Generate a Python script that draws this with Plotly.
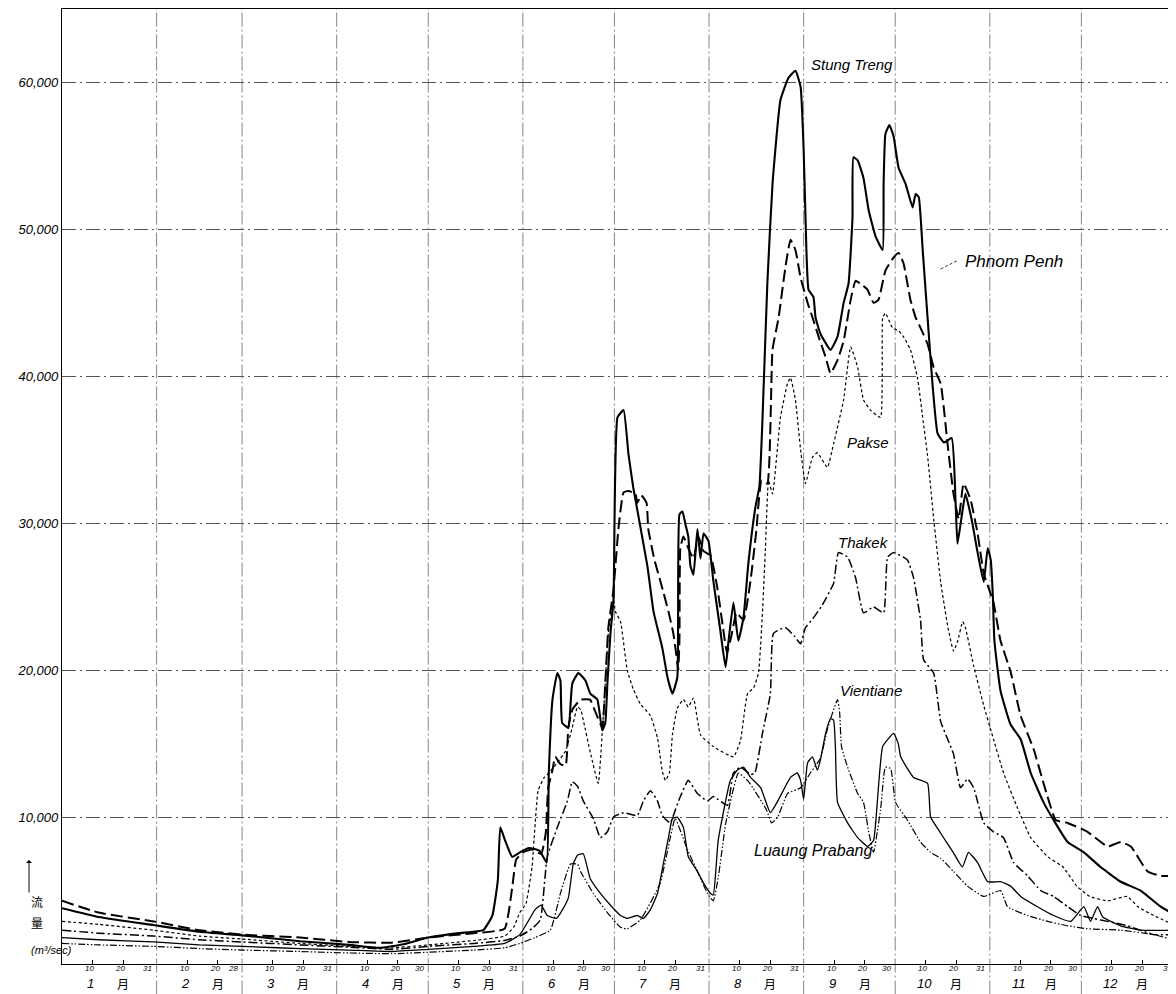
import plotly.graph_objects as go

# ---------------- data (day of year, discharge m3/s) ----------------
st_day = [0, 12, 30, 45, 59, 78, 94, 104, 112, 120, 130, 138, 141, 142.8, 143.6, 145.2, 147.5, 150, 153, 156.5,
          158.8, 159.5, 160.7, 162.3, 163.3, 163.9, 165.9, 167.2, 169.2, 171.5, 173.1, 175.4, 177, 178, 178.7,
          179.7, 180.7, 182, 184, 185.6, 187.2, 191.8, 193.8, 196.7, 198.4, 200, 201.6, 202.3, 203.3, 204.3,
          205.2, 205.9, 206.9, 208.2, 209.2, 210.2, 211.8, 213.4, 215.7, 217.4, 218.4, 220, 221.6, 223.3, 224.9,
          227.2, 228.5, 229.5, 231.1, 232.8, 235.4, 238, 240.3, 242, 243, 243.9, 244.6, 246.2, 246.9, 248.5,
          251.8, 254.1, 256.1, 257.7, 259, 259.3, 260.7, 262.6, 264.3, 266.6, 268.9, 269.2, 269.8, 271.1,
          272.5, 274.1, 276.4, 278.7, 279.7, 280.7, 282, 283.6, 285.2, 286.9, 289, 291.5, 292.8, 293.4, 294.8,
          296, 298, 300, 302, 303.3, 304.3, 305, 305.5, 307.5, 310.8, 314.1, 317.4, 321.6, 324.9, 329.5, 334.8,
          340.3, 346.9, 353.4, 360, 365]
st_q = [3800, 3200, 2650, 2200, 1950, 1550, 1300, 1100, 1350, 1800, 2100, 2300, 3300, 5700, 9300, 8400, 7300, 7600,
        7900, 7700, 6900, 13000, 18000, 19800, 19300, 16400, 16100, 19100, 19800, 19300, 18400, 18000, 15900,
        16400, 19100, 22500, 24800, 37200, 37700, 34700, 32400, 27100, 24000, 21500, 19500, 18400, 19500, 30600,
        30800, 29900, 29100, 27100, 26500, 29600, 27600, 29300, 28800, 26100, 22700, 20200, 22000, 24600, 22000,
        23600, 27300, 31100, 32500, 37000, 46300, 53100, 58800, 60300, 60800, 59700, 55400, 48600, 45900, 45400,
        44000, 42900, 41800, 42700, 45000, 46300, 50800, 54900, 54700, 53500, 51300, 49500, 48600, 53100, 56500,
        57100, 56300, 54200, 53100, 51500, 52400, 52200, 48600, 44000, 39500, 36100, 35500, 35800, 31300, 28600,
        30500, 32000, 30300, 28000, 26000, 28300, 27500, 25000, 22000, 18600, 16300, 15300, 13000, 11000, 9800,
        8300, 7600, 6600, 5600, 5000, 3900, 3300]

pp_day = [0, 12, 30, 45, 59, 78, 94, 108, 120, 135, 145, 147.5, 148.8, 151, 154, 157, 158.5, 159.3, 160.7, 161.6,
          163.3, 165, 165.9, 167.2, 169, 170, 173, 174.5, 177, 178, 179, 180.7, 182.3, 184, 185.6, 187.9, 188.5,
          189.8, 191.5, 192.1, 194, 196.4, 198.7, 200.3, 201.3, 201.9, 202.3, 202.6, 203.6, 205.2, 206.9, 208.5,
          210.2, 212.5, 214.8, 216.5, 217.9, 219.5, 221, 223.3, 225.6, 227.5, 229.2, 231.1, 232.8, 234.8, 237,
          238.7, 240.3, 242, 244.3, 245.9, 247.9, 250.2, 251.8, 254.1, 256.1, 258.4, 260, 261.6, 263.9, 265.9,
          267.5, 269.8, 272.5, 274.1, 275.7, 278, 279.7, 281.3, 283.6, 285.6, 287.9, 290.2, 292.1, 293.8, 295.4,
          297.7, 300, 302, 305.2, 307.5, 310.8, 314.1, 318.4, 321.6, 325.6, 329.5, 336, 342.6, 346.9, 350.2,
          355.7, 360, 365]
pp_q = [4300, 3500, 2900, 2300, 2000, 1800, 1500, 1450, 1800, 2100, 2400, 5200, 7100, 7600, 7800, 7500, 8900, 12000,
        13200, 14100, 13600, 13500, 16100, 17300, 17800, 18000, 18000, 17300, 16100, 19100, 22900, 25500, 29600,
        32100, 32200, 32000, 31400, 31900, 31400, 29600, 27600, 25800, 24000, 22500, 21000, 20000, 22000, 28300,
        29100, 28300, 27600, 29100, 28100, 27800, 25500, 23000, 21200, 22500, 23900, 23400, 26100, 29500, 32900,
        32700, 41800, 44000, 47400, 49300, 48600, 46700, 45000, 44000, 42700, 41300, 40200, 41100, 42400, 45200,
        46500, 46300, 45900, 45000, 45200, 47200, 48100, 48400, 47700, 45200, 44000, 43300, 42200, 40600, 39500,
        35300, 32000, 30300, 32700, 31600, 29300, 26600, 24600, 22000, 19900, 16900, 14600, 12300, 9800, 9600,
        9000, 8000, 8300, 8000, 6300, 6000, 6000]

pk_day = [0, 12, 30, 45, 59, 78, 94, 108, 120, 135, 145, 148, 150, 152, 154, 156, 158, 159.5, 162.3, 165, 167.2,
          168.9, 170, 170.8, 173.1, 175.7, 177, 178, 179, 180.7, 181.3, 183, 185.2, 187.2, 189.5, 192.8, 195.1,
          196.7, 197.7, 199, 200, 201.6, 203.6, 205.2, 206.9, 209.2, 213.4, 220, 222.3, 224.6, 226.6, 228.2,
          229.5, 230.5, 231.5, 232.8, 235.4, 237.7, 238.7, 240.3, 242, 243.6, 245.9, 247.5, 250.8, 252.8, 256.1,
          258.4, 260.7, 262.6, 264.9, 268.2, 268.9, 269.8, 272.1, 274.1, 275.7, 278, 280.3, 282, 283.6, 285.6,
          287.9, 290.2, 292.1, 293.5, 295.1, 296, 298.7, 302, 305.2, 308.5, 313.1, 317.4, 323, 328, 332.5, 336.7,
          342.6, 349, 352.5, 357.7, 365]
pk_q = [2900, 2700, 2300, 1900, 1700, 1400, 1200, 1100, 1300, 1600, 1900, 2500, 3500, 4100, 6600, 11800, 12700,
        13000, 13700, 14500, 16100, 17500, 17300, 16600, 14400, 12300, 15700, 19100, 22500, 24800, 24000, 23300,
        20000, 18700, 17700, 16900, 15400, 13100, 12500, 13000, 15600, 17400, 18000, 17500, 18100, 15600, 14800,
        14100, 15200, 18400, 18800, 19800, 23900, 28400, 32900, 32000, 37200, 39500, 39900, 38400, 35000, 32700,
        34500, 34800, 33800, 35400, 38400, 42000, 40600, 38400, 37700, 37200, 44000, 44300, 43300, 43100, 42700,
        41800, 39900, 37200, 34600, 30300, 26000, 23000, 21300, 22000, 23300, 22900, 20300, 17600, 15300, 13000,
        10600, 8600, 7300, 6600, 5300, 4600, 4300, 4600, 3900, 3300, 2600]

th_day = [0, 12, 30, 45, 59, 78, 94, 108, 120, 135, 145, 150, 154, 156.7, 159, 162.3, 165.6, 167.2, 168.9, 170.8,
          174.1, 176.4, 178.7, 180.7, 184, 188.5, 190.5, 192.8, 195.1, 196.7, 199.3, 200.3, 202.6, 205.2, 208.2,
          211.5, 213.4, 218, 220, 222.3, 225.6, 227, 229.5, 232.1, 233.1, 237, 240, 242, 243.6, 246, 249, 252.8,
          254.4, 257.4, 260, 262.6, 265.9, 269.2, 270.5, 272.5, 277, 279, 281.3, 282.3, 285.6, 287.9, 290.2,
          292.1, 294.4, 296.7, 298.7, 302, 305.2, 308.5, 311.8, 316.4, 320.7, 324.9, 329.5, 333.8, 338, 342.6,
          349.2, 357.7, 365]
th_q = [2300, 2100, 1900, 1650, 1500, 1300, 1150, 1000, 1200, 1400, 1600, 1900, 2400, 3000, 7300, 9300, 11100,
        12400, 12100, 11100, 9900, 8600, 9000, 10000, 10300, 10100, 11100, 11800, 11100, 10100, 9600, 10100, 11400,
        12500, 11600, 11100, 11400, 10800, 13000, 13400, 12900, 13000, 15700, 18400, 22500, 22900, 22300, 21800,
        22900, 23500, 24400, 25900, 28000, 27700, 26300, 23900, 24300, 23900, 27700, 28000, 27500, 26300, 23400,
        20700, 19800, 16500, 15300, 14300, 12000, 12600, 12000, 9600, 9000, 8600, 6900, 6000, 5000, 4600, 3900,
        3300, 3100, 2900, 2600, 2000, 2000]

vt_day = [0, 12, 30, 45, 59, 78, 94, 108, 120, 135, 145, 150, 153, 155, 157, 159, 162, 164, 165.9, 167.5, 168.9,
          170.8, 173.1, 176.4, 179.7, 183, 185.2, 188.5, 190.5, 192.8, 195.1, 197, 198.7, 200, 201.6, 203.6,
          205.2, 208.2, 210.2, 212.5, 213.4, 215, 219, 221.3, 223.3, 225.6, 228.9, 232.1, 234.8, 238.7, 240.9,
          242, 243, 244.3, 245.9, 247.5, 248.5, 250.2, 251.8, 252.8, 253.4, 254.1, 257.4, 260.7, 263.9, 265.9,
          267.2, 268.9, 272.5, 274, 274.8, 279, 283.6, 284.6, 287.9, 292, 295, 297, 300, 303.3, 307.5, 310.8,
          314.1, 319.6, 324.9, 330.5, 334.8, 337, 339.3, 341, 346.9, 353.4, 365]
vt_q = [1800, 1650, 1500, 1300, 1200, 1050, 950, 850, 1000, 1200, 1400, 2000, 3000, 3700, 4000, 3300, 3100, 3700,
        4500, 6800, 7400, 7500, 5800, 4800, 4000, 3300, 3100, 3300, 3100, 3700, 4800, 6800, 8600, 9900, 10000,
        9300, 7300, 6300, 5500, 4800, 4700, 8400, 12500, 13200, 13400, 12700, 12000, 10300, 11200, 12700, 13000,
        12500, 11200, 13700, 14100, 13200, 13900, 15700, 16700, 16600, 14800, 11000, 9600, 8600, 8000, 8400,
        11200, 14800, 15700, 15000, 14100, 12700, 12300, 10000, 8900, 7600, 6600, 7600, 6900, 5600, 5600, 5300,
        4600, 3900, 3300, 2900, 3900, 2900, 3900, 3200, 2600, 2300, 2300]

lp_day = [0, 12, 30, 45, 59, 78, 94, 108, 120, 135, 145, 150, 155, 160, 163.3, 166.6, 168.9, 169.9, 174.1, 178.7,
          183, 185.2, 189.5, 196, 199.3, 200.9, 204.9, 208.2, 211.5, 213.4, 215.1, 217.4, 219.5, 221.6, 225,
          230.8, 232.5, 234.5, 237.7, 242, 245.2, 248.5, 250.8, 254.1, 254.8, 255.4, 257.4, 260.7, 262.6, 264.3,
          265.9, 268.2, 269.8, 271.5, 273.1, 277, 281.3, 284.6, 287.9, 292.1, 296.7, 302, 307.5, 309.8, 316.4,
          323, 329.5, 336, 346.9, 357.7, 365]
lp_q = [1400, 1300, 1200, 1050, 950, 850, 750, 700, 800, 950, 1100, 1400, 1800, 2300, 4800, 6800, 6800, 6300, 4800,
        3500, 2500, 2400, 3000, 5500, 8600, 9900, 7800, 6300, 4800, 4300, 6000, 9500, 11500, 13000, 12400, 10500,
        9600, 10000, 11600, 12000, 13000, 14000, 16000, 18000, 17100, 14800, 13400, 11600, 11000, 9000, 7600,
        10500, 13400, 13300, 11000, 9800, 8300, 7600, 7200, 6300, 5300, 4600, 5000, 3900, 3300, 2900, 2600, 2400,
        2300, 2000, 1600]

month_start = [0, 31, 59, 90, 120, 151, 181, 212, 243, 273, 304, 334]
month_len = [31, 28, 31, 30, 31, 30, 31, 31, 30, 31, 30, 31]
month_num = ["1", "2", "3", "4", "5", "6", "7", "8", "9", "10", "11", "12"]
y_ticks = [10000, 20000, 30000, 40000, 50000, 60000]
y_ticktext = ["10,000", "20,000", "30,000", "40,000", "50,000", "60,000"]

station_labels = ["Stung Treng", "Phnom Penh", "Pakse", "Thakek", "Vientiane", "Luaung Prabang"]
label_day = [259, 312, 264, 262.6, 265, 246]
label_q = [61200, 47800, 35500, 28700, 18600, 7700]
label_size = [15, 17, 15, 15, 15, 16]

# ---------------- figure ----------------
fig = go.Figure()
series = [
    (lp_day, lp_q, "Luang Prabang", 1.2, "7px,2px,1.5px,2px,1.5px,2px"),
    (vt_day, vt_q, "Vientiane", 1.3, "solid"),
    (th_day, th_q, "Thakek", 1.5, "9px,3px,2px,3px"),
    (pk_day, pk_q, "Pakse", 1.2, "3px,2.5px"),
    (pp_day, pp_q, "Phnom Penh", 2.0, "12px,5px"),
    (st_day, st_q, "Stung Treng", 2.1, "solid"),
]
for d, q, name, w, dash in series:
    fig.add_trace(go.Scatter(x=d, y=q, mode="lines", name=name,
                             line=dict(color="black", width=w, dash=dash, shape="spline", smoothing=0.4),
                             showlegend=False, hoverinfo="skip"))

# month boundary lines (extend below axis)
for s in month_start[1:]:
    fig.add_shape(type="line", xref="x", yref="paper", x0=s, x1=s, y0=-0.032, y1=1,
                  line=dict(color="#666", width=0.8, dash="14px,3px,2px,3px"), layer="below")

# Day labels and month labels
lab_font = dict(family="Liberation Sans", size=8, color="black", style="italic")
for s, L, m in zip(month_start, month_len, month_num):
    for dd in (10, 20):
        fig.add_annotation(x=s + dd - 1, y=-0.0045, xref="x", yref="paper", text=str(dd), showarrow=False,
                           font=lab_font, xanchor="center", yanchor="middle")
    fig.add_annotation(x=s + L - 0.8, y=-0.0045, xref="x", yref="paper", text=str(L), showarrow=False,
                       font=lab_font, xanchor="right", yanchor="middle")
    fig.add_annotation(x=s + 9.5, y=-0.0205, xref="x", yref="paper", text=m, showarrow=False,
                       font=dict(family="Liberation Sans", size=13, color="black", style="italic"),
                       xanchor="center", yanchor="middle")
    fig.add_annotation(x=s + 20, y=-0.0205, xref="x", yref="paper", text="月", showarrow=False,
                       font=dict(family="Noto Sans CJK JP", size=12, color="black"),
                       xanchor="center", yanchor="middle")

# station labels
for t, d, q, fs in zip(station_labels, label_day, label_q, label_size):
    fig.add_annotation(x=d, y=q, text=t, showarrow=False, xanchor="center", yanchor="middle",
                       font=dict(family="Liberation Sans", size=fs, color="black", style="italic"))
# Phnom Penh leader line
fig.add_shape(type="line", xref="x", yref="y", x0=287.9, y0=47300, x1=293.6, y1=47900,
              line=dict(color="black", width=0.8, dash="3px,2px"))

# y-axis title (vertical, left)
fig.add_annotation(xref="paper", yref="paper", x=-0.0296, y=0.109, ax=0, ay=34, text="", showarrow=True,
                   arrowhead=1, arrowsize=1, arrowwidth=1, arrowcolor="black")
fig.add_annotation(xref="paper", yref="paper", x=-0.0296, y=0.0545, text="流", showarrow=False,
                   font=dict(family="Noto Sans CJK JP", size=12, color="black"))
fig.add_annotation(xref="paper", yref="paper", x=-0.0296, y=0.0325, text="量", showarrow=False,
                   font=dict(family="Noto Sans CJK JP", size=12, color="black"))
fig.add_annotation(xref="paper", yref="paper", x=-0.0296, y=0.0063, text="(m³/sec)", showarrow=False,
                   font=dict(family="Liberation Sans", size=11, color="black", style="italic"))

# The page body has an 8px margin, so the figure is sized to fit the 1176x994 window.
fig.update_layout(
    width=1168, height=986,
    margin=dict(l=54, r=0, t=1, b=30),
    paper_bgcolor="white", plot_bgcolor="white",
    xaxis=dict(range=[0, 365], showgrid=False, zeroline=False, showline=True, linecolor="black",
               linewidth=1.4, mirror=True,
               tickvals=[s + dd for s in month_start for dd in (10, 20)],
               ticks="inside", ticklen=4, tickcolor="black", showticklabels=False),
    yaxis=dict(range=[0, 65000], tickvals=y_ticks, ticktext=y_ticktext, showgrid=True,
               gridcolor="#555", gridwidth=0.8, griddash="14px,4px,2px,4px",
               zeroline=False, showline=True, linecolor="black", linewidth=1.4, mirror=False,
               ticks="", tickfont=dict(family="Liberation Sans", size=13, color="black", style="italic")),
)

fig.write_html("out.html")
